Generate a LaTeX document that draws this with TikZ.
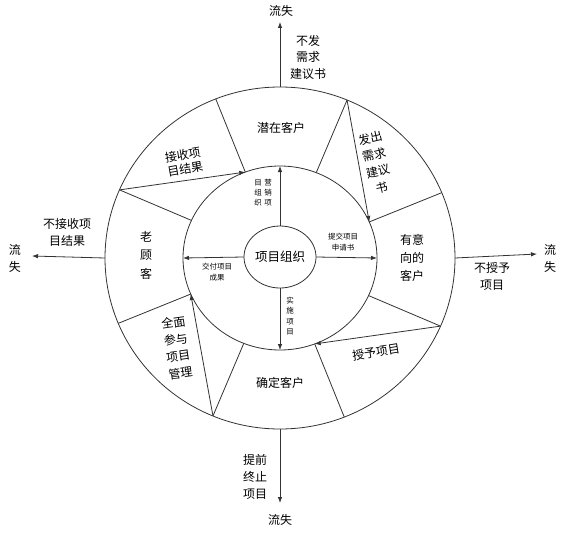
\documentclass[tikz,border=0pt]{standalone}
\usepackage{fontspec}
\setmainfont{Noto Sans CJK SC}
\usetikzlibrary{arrows.meta,shapes.geometric}

\tikzset{
  ring/.style={draw=black!80, line width=0.8pt, ellipse, inner sep=0pt, outer sep=0pt},
  cut/.style={draw=black!80, line width=0.8pt},
  flow/.style={cut, -{Latex[length=6pt,width=4.5pt]}},
  big/.style={font=\fontsize{12}{17}\selectfont, align=center, inner sep=0pt},
  small/.style={font=\fontsize{7.5}{10.5}\selectfont, align=center, inner sep=0pt},
}

\begin{document}
\begin{tikzpicture}[x=1pt,y=1pt]
\useasboundingbox (0,0) rectangle (564,-532);
% the three rings
\node (rim) [ring, minimum width=350pt, minimum height=342pt] at (280,-258) {};
\node (hub) [ring, minimum width=194pt, minimum height=184pt] at (280,-258) {};
\node (core) [ring, minimum width=72pt, minimum height=62pt,
  font=\fontsize{12.5}{15}\selectfont] at (280,-257) {项目组织};
% segment borders
\foreach \a in {22.5,67.5,112.5,157.5,202.5,247.5,292.5,337.5}
  \draw [cut] (hub.\a) -- (rim.\a);
% moves between customer states
\draw [flow] (rim.67.5) -- (hub.22.5);
\draw [flow] (rim.157.5) -- (hub.112.5);
\draw [flow] (rim.247.5) -- (hub.202.5);
\draw [flow] (rim.337.5) -- (hub.292.5);
% project organisation
\draw [flow] (core.north) -- (hub.north);
\draw [flow] (core.east) -- (hub.east);
\draw [flow] (core.south) -- (hub.south);
\draw [flow] (core.west) -- (hub.west);
% losses
\coordinate (lossN) at (280,-22);
\coordinate (lossE) at (537,-254);
\coordinate (lossS) at (280,-503);
\coordinate (lossW) at (32,-256);
\draw [flow] (rim.north) -- (lossN);
\draw [flow] (rim.east) -- (lossE);
\draw [flow] (rim.south) -- (lossS);
\draw [flow] (rim.west) -- (lossW);
\node (goneN) [big] at (281,-11) {流失};
\node (goneE) [big] at (550,-258) {流\\失};
\node (goneS) [big] at (280,-520) {流失};
\node (goneW) [big] at (15,-258) {流\\失};
\node (noSend) [big, font=\fontsize{12}{16.5}\selectfont] at (308,-57) {不发\\需求\\建议书};
\node (noTake) [big] at (67,-232) {不接收项\\目结果};
\node (noGrant) [big] at (492,-276) {不授予\\项目};
\node (stopEarly) [big] at (255,-477) {提前\\终止\\项目};
% customer states
\node (potential) [big] at (281,-128) {潜在客户};
\node (intent) [big, font=\fontsize{12}{18}\selectfont] at (412,-258) {有意\\向的\\客户};
\node (confirmed) [big] at (280,-383) {确定客户};
\node (loyal) [big, font=\fontsize{12}{18.5}\selectfont] at (146,-255) {老\\顾\\客};
\node (sendReq) [big, font=\fontsize{12}{17}\selectfont, rotate=13] at (376,-163) {发出\\需求\\建议\\书};
\node (takeRes) [big, font=\fontsize{12}{14.5}\selectfont, rotate=10] at (184,-162) {接收项\\目结果};
\node (joinMgmt) [big, rotate=8] at (177,-348) {全面\\参与\\项目\\管理};
\node (grant) [big, rotate=9] at (376,-352) {授予项目};
% inner labels
\node (market) [small, font=\fontsize{7.5}{10}\selectfont] at (263,-193) {目\hspace{2.5pt}营\\组\hspace{2.5pt}销\\织\hspace{2.5pt}项};
\node (apply) [small] at (343,-242) {提交项目\\申请书};
\node (deliver) [small] at (217,-272) {交付项目\\成果};
\node (execute) [small] at (290,-316) {实\\施\\项\\目};
\end{tikzpicture}
\end{document}
